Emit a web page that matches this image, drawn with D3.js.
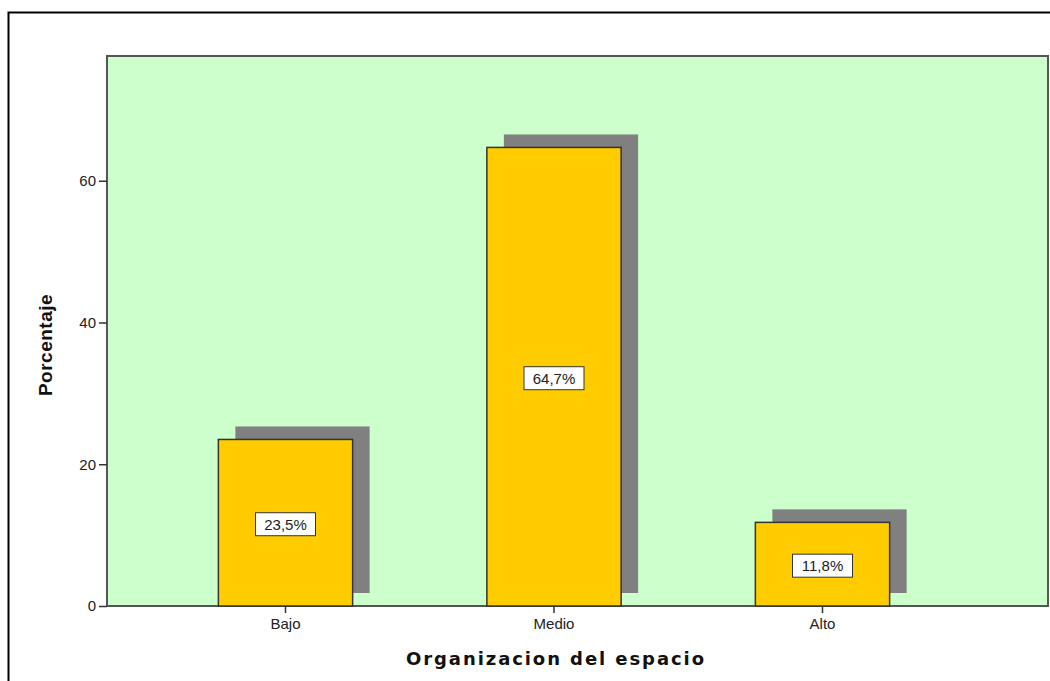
<!DOCTYPE html>
<html><head><meta charset="utf-8">
<script src="https://cdn.jsdelivr.net/npm/d3@7"></script>
<style>body{margin:0;background:#fff}svg{display:block}svg{font-family:"Liberation Sans",Arial,sans-serif}</style>
</head><body>
<script>
const categories = ["Bajo", "Medio", "Alto"];
const values = [23.5, 64.7, 11.8];
const yTicks = [0, 20, 40, 60];
const xTitle = "Organizacion del espacio";
const yTitle = "Porcentaje";

const W = 1050, H = 681;
const svg = d3.select("body").append("svg").attr("width", W).attr("height", H);

// outer frame
svg.append("rect").attr("x", 8.5).attr("y", 12.5).attr("width", 1060).attr("height", 700)
  .attr("fill", "none").attr("stroke", "#000").attr("stroke-width", 2);

const plot = {left: 107, top: 56, right: 1048, bottom: 606};
const y = d3.scaleLinear().domain([0, 77.6]).range([plot.bottom, plot.top]);
const x = d3.scaleBand().domain(categories).range([151.25, 956.75]).paddingInner(0.5).paddingOuter(0.25);

svg.append("rect").attr("x", plot.left).attr("y", plot.top)
  .attr("width", plot.right - plot.left).attr("height", plot.bottom - plot.top)
  .attr("fill", "#ccffcc").attr("stroke", "#555").attr("stroke-width", 2);

const data = categories.map((c, i) => ({c, v: values[i]}));
// shadows
svg.append("g").selectAll("rect").data(data).join("rect")
  .attr("x", d => x(d.c) + 17).attr("y", d => y(d.v) - 13)
  .attr("width", x.bandwidth()).attr("height", d => y(0) - y(d.v))
  .attr("fill", "#808080");
// bars
svg.append("g").selectAll("rect").data(data).join("rect")
  .attr("x", d => x(d.c)).attr("y", d => y(d.v))
  .attr("width", x.bandwidth()).attr("height", d => y(0) - y(d.v))
  .attr("fill", "#ffcc00").attr("stroke", "#333").attr("stroke-width", 1.5);

// labels
const lg = svg.append("g").selectAll("g").data(data).join("g")
  .attr("transform", d => `translate(${x(d.c) + x.bandwidth()/2},${(y(d.v) + y(0))/2 + 2})`);
lg.append("rect").attr("x", -30).attr("y", -12).attr("width", 60).attr("height", 23)
  .attr("fill", "#fff").attr("stroke", "#333").attr("stroke-width", 1);
lg.append("text").attr("text-anchor", "middle").attr("dy", "0.35em")
  .style("font-family", "'Liberation Sans', Arial, sans-serif")
  .attr("font-size", 15).attr("fill", "#222")
  .text(d => d.v.toFixed(1).replace(".", ",") + "%");

// axes
const yAxis = d3.axisLeft(y).tickValues(yTicks).tickSize(8).tickPadding(3);
const gy = svg.append("g").attr("transform", `translate(${plot.left},0)`).call(yAxis);
gy.select(".domain").remove();
gy.selectAll("line").attr("stroke", "#333").attr("stroke-width", 1.5);
gy.selectAll("text").attr("font-size", 15).attr("fill", "#222").style("font-family", "'Liberation Sans', Arial, sans-serif");

const xAxis = d3.axisBottom(x).tickSize(7).tickPadding(5);
const gx = svg.append("g").attr("transform", `translate(0,${plot.bottom})`).call(xAxis);
gx.select(".domain").remove();
gx.selectAll("line").attr("stroke", "#333").attr("stroke-width", 1.5);
gx.selectAll("text").attr("font-size", 15).attr("fill", "#222").style("font-family", "'Liberation Sans', Arial, sans-serif");

svg.append("text").attr("x", 555).attr("y", 665).attr("text-anchor", "middle")
  .style("font-family", "'DejaVu Sans', Verdana, sans-serif")
  .attr("font-size", 18).attr("font-weight", "bold").attr("fill", "#111")
  .attr("textLength", 298).attr("lengthAdjust", "spacing")
  .text(xTitle);
svg.append("text").attr("transform", "translate(52,345) rotate(-90)").attr("text-anchor", "middle")
  .style("font-family", "'Liberation Sans', Arial, sans-serif")
  .attr("font-size", 19).attr("font-weight", "bold").attr("letter-spacing", 0.5).attr("fill", "#111")
  .text(yTitle);
</script>
</body></html>
